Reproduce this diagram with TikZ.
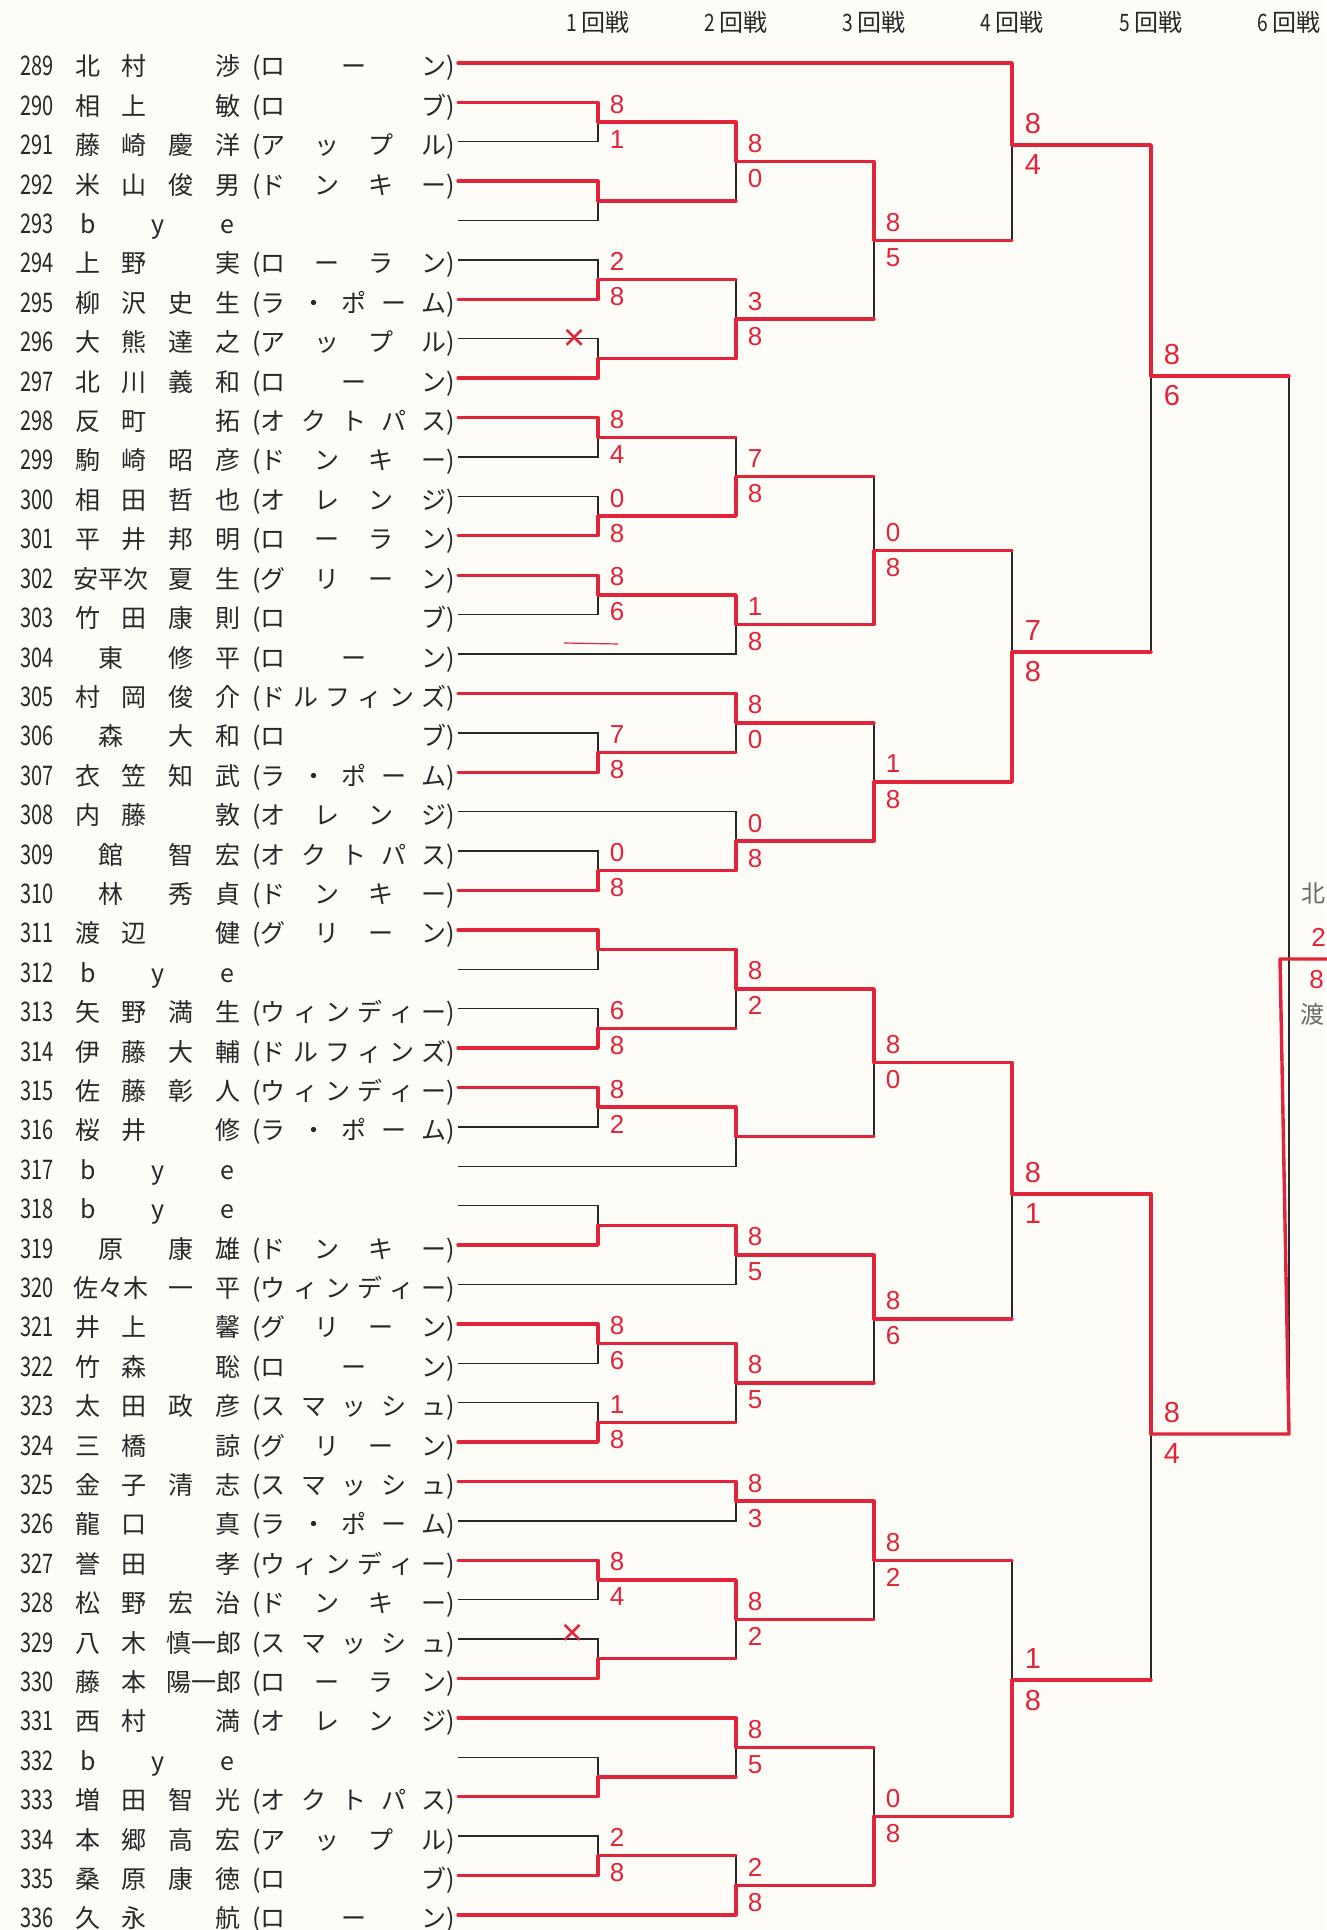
\documentclass[tikz,border=0pt]{standalone}
\usepackage{fontspec}
\usepackage{graphicx}
\setmainfont{Noto Sans CJK JP}
\newfontfamily\scfont{Liberation Sans}
\usetikzlibrary{calc}
\newlength\px \setlength\px{0.5pt}
\definecolor{pen}{RGB}{226,36,58}
\definecolor{ink}{RGB}{40,40,40}
\definecolor{pencil}{RGB}{105,105,105}
\definecolor{paper}{RGB}{253,252,247}
\tikzset{
 txt/.style={inner sep=0pt, font=\fontsize{12.5pt}{12.5pt}\selectfont, text height=10.5pt, text depth=1.5pt, text=ink},
 numtxt/.style={txt, font=\fontsize{13.5pt}{13.5pt}\selectfont},
 hd/.style={txt, font=\fontsize{12pt}{12pt}\selectfont},
 bk/.style={draw=ink, line width=0.7pt},
 rd/.style={draw=pen, line width=1.7pt, line cap=round, line join=round},
 sc/.style={text=pen, inner sep=0pt, font=\scfont\fontsize{13pt}{13pt}\selectfont},
 scl/.style={text=pen, inner sep=0pt, font=\scfont\fontsize{14.5pt}{14.5pt}\selectfont},
 crossmk/.style={text=pen, inner sep=0pt, font=\scfont\fontsize{19pt}{19pt}\selectfont},
 hand/.style={text=pencil, inner sep=0pt, font=\fontsize{12pt}{12pt}\selectfont},
}
\newcommand\SLt[1]{\makebox[46.7\px]{#1}}
\newcommand\DLt[1]{\makebox[93.4\px]{#1}}
\newcommand\NF[4]{\SLt{#1}\SLt{#2}\SLt{#3}\SLt{#4}}
\newcommand\NT[3]{\DLt{#1}\SLt{#2}\SLt{#3}}
\newcommand\NE[3]{\SLt{#1}\SLt{#2}\DLt{#3}}
\newcommand\Row[4]{%
 \coordinate (P#2) at (458,{63+39.4*#1});
 \node[numtxt] (num#2) at (37,{67+39.4*#1}) {\scalebox{0.74}[1]{#2}};
 \node[txt,anchor=west] (nm#2) at (64,{67+39.4*#1}) {#3};
 \node[txt,anchor=west] (tm#2) at (252,{67+39.4*#1}) {(\makebox[186\px][s]{#4})};
}
\newcommand\Bye[2]{%
 \coordinate (P#2) at (458,{63+39.4*#1});
 \node[numtxt] (num#2) at (37,{67+39.4*#1}) {\scalebox{0.74}[1]{#2}};
 \node[txt,anchor=west] (nm#2) at (53,{67+39.4*#1}) {\makebox[69.5\px]{b}\makebox[69.5\px]{y}\makebox[69.5\px]{e}};
}
\newcommand\M[6]{%
 \coordinate (#1) at (#2,{#3});
 \draw[bk] (#4) -| (#1) |- (#5);
 \if#6t\draw[rd] (#4) -| (#1);\else\draw[rd] (#5) -| (#1);\fi
}
\newcommand\Lr[2]{\draw[rd] (#1) -- (#1 -| #2);}
\newcommand\Sc[3]{\node[sc] (#1t) at ($(#1)+(19,-18)$) {#2};\node[sc] (#1b) at ($(#1)+(19,17)$) {#3};}
\newcommand\ScL[3]{\node[scl] (#1t) at ($(#1)+(21,-21)$) {#2};\node[scl] (#1b) at ($(#1)+(21,20)$) {#3};}
\begin{document}
\begin{tikzpicture}[x=0.5pt,y=-0.5pt]
\useasboundingbox (0,0) rectangle (1326,1930);
\fill[paper] (0,0) rectangle (1326,1930);
% headers
\node[hd] (h1) at (598,23) {\scalebox{0.8}[1]{1}\,回戦};
\node[hd] (h2) at (736,23) {\scalebox{0.8}[1]{2}\,回戦};
\node[hd] (h3) at (874,23) {\scalebox{0.8}[1]{3}\,回戦};
\node[hd] (h4) at (1012,23) {\scalebox{0.8}[1]{4}\,回戦};
\node[hd] (h5) at (1151,23) {\scalebox{0.8}[1]{5}\,回戦};
\node[hd] (h6) at (1289,23) {\scalebox{0.8}[1]{6}\,回戦};
% players
\Row{0}{289}{\NF{北}{村}{}{渉}}{ロ\hfill ー\hfill ン}
\Row{1}{290}{\NF{相}{上}{}{敏}}{ロ\hfill ブ}
\Row{2}{291}{\NF{藤}{崎}{慶}{洋}}{ア\hfill ッ\hfill プ\hfill ル}
\Row{3}{292}{\NF{米}{山}{俊}{男}}{ド\hfill ン\hfill キ\hfill ー}
\Bye{4}{293}
\Row{5}{294}{\NF{上}{野}{}{実}}{ロ\hfill ー\hfill ラ\hfill ン}
\Row{6}{295}{\NF{柳}{沢}{史}{生}}{ラ\hfill ・\hfill ポ\hfill ー\hfill ム}
\Row{7}{296}{\NF{大}{熊}{達}{之}}{ア\hfill ッ\hfill プ\hfill ル}
\Row{8}{297}{\NF{北}{川}{義}{和}}{ロ\hfill ー\hfill ン}
\Row{9}{298}{\NF{反}{町}{}{拓}}{オ\hfill ク\hfill ト\hfill パ\hfill ス}
\Row{10}{299}{\NF{駒}{崎}{昭}{彦}}{ド\hfill ン\hfill キ\hfill ー}
\Row{11}{300}{\NF{相}{田}{哲}{也}}{オ\hfill レ\hfill ン\hfill ジ}
\Row{12}{301}{\NF{平}{井}{邦}{明}}{ロ\hfill ー\hfill ラ\hfill ン}
\Row{13}{302}{\NT{安平次}{夏}{生}}{グ\hfill リ\hfill ー\hfill ン}
\Row{14}{303}{\NF{竹}{田}{康}{則}}{ロ\hfill ブ}
\Row{15}{304}{\NT{東}{修}{平}}{ロ\hfill ー\hfill ン}
\Row{16}{305}{\NF{村}{岡}{俊}{介}}{ド\hfill ル\hfill フ\hfill ィ\hfill ン\hfill ズ}
\Row{17}{306}{\NT{森}{大}{和}}{ロ\hfill ブ}
\Row{18}{307}{\NF{衣}{笠}{知}{武}}{ラ\hfill ・\hfill ポ\hfill ー\hfill ム}
\Row{19}{308}{\NF{内}{藤}{}{敦}}{オ\hfill レ\hfill ン\hfill ジ}
\Row{20}{309}{\NT{館}{智}{宏}}{オ\hfill ク\hfill ト\hfill パ\hfill ス}
\Row{21}{310}{\NT{林}{秀}{貞}}{ド\hfill ン\hfill キ\hfill ー}
\Row{22}{311}{\NF{渡}{辺}{}{健}}{グ\hfill リ\hfill ー\hfill ン}
\Bye{23}{312}
\Row{24}{313}{\NF{矢}{野}{満}{生}}{ウ\hfill ィ\hfill ン\hfill デ\hfill ィ\hfill ー}
\Row{25}{314}{\NF{伊}{藤}{大}{輔}}{ド\hfill ル\hfill フ\hfill ィ\hfill ン\hfill ズ}
\Row{26}{315}{\NF{佐}{藤}{彰}{人}}{ウ\hfill ィ\hfill ン\hfill デ\hfill ィ\hfill ー}
\Row{27}{316}{\NF{桜}{井}{}{修}}{ラ\hfill ・\hfill ポ\hfill ー\hfill ム}
\Bye{28}{317}
\Bye{29}{318}
\Row{30}{319}{\NT{原}{康}{雄}}{ド\hfill ン\hfill キ\hfill ー}
\Row{31}{320}{\NT{佐々木}{一}{平}}{ウ\hfill ィ\hfill ン\hfill デ\hfill ィ\hfill ー}
\Row{32}{321}{\NF{井}{上}{}{馨}}{グ\hfill リ\hfill ー\hfill ン}
\Row{33}{322}{\NF{竹}{森}{}{聡}}{ロ\hfill ー\hfill ン}
\Row{34}{323}{\NF{太}{田}{政}{彦}}{ス\hfill マ\hfill ッ\hfill シ\hfill ュ}
\Row{35}{324}{\NF{三}{橋}{}{諒}}{グ\hfill リ\hfill ー\hfill ン}
\Row{36}{325}{\NF{金}{子}{清}{志}}{ス\hfill マ\hfill ッ\hfill シ\hfill ュ}
\Row{37}{326}{\NF{龍}{口}{}{真}}{ラ\hfill ・\hfill ポ\hfill ー\hfill ム}
\Row{38}{327}{\NF{誉}{田}{}{孝}}{ウ\hfill ィ\hfill ン\hfill デ\hfill ィ\hfill ー}
\Row{39}{328}{\NF{松}{野}{宏}{治}}{ド\hfill ン\hfill キ\hfill ー}
\Row{40}{329}{\NE{八}{木}{慎一郎}}{ス\hfill マ\hfill ッ\hfill シ\hfill ュ}
\Row{41}{330}{\NE{藤}{本}{陽一郎}}{ロ\hfill ー\hfill ラ\hfill ン}
\Row{42}{331}{\NF{西}{村}{}{満}}{オ\hfill レ\hfill ン\hfill ジ}
\Bye{43}{332}
\Row{44}{333}{\NF{増}{田}{智}{光}}{オ\hfill ク\hfill ト\hfill パ\hfill ス}
\Row{45}{334}{\NF{本}{郷}{高}{宏}}{ア\hfill ッ\hfill プ\hfill ル}
\Row{46}{335}{\NF{桑}{原}{康}{徳}}{ロ\hfill ブ}
\Row{47}{336}{\NF{久}{永}{}{航}}{ロ\hfill ー\hfill ン}
% round 1
\M{a1}{598}{63+39.4*1.5}{P290}{P291}{t}\Sc{a1}{8}{1}
\M{a2}{598}{63+39.4*3.5}{P292}{P293}{t}
\M{a3}{598}{63+39.4*5.5}{P294}{P295}{b}\Sc{a3}{2}{8}
\M{a4}{598}{63+39.4*7.5}{P296}{P297}{b}
\M{a5}{598}{63+39.4*9.5}{P298}{P299}{t}\Sc{a5}{8}{4}
\M{a6}{598}{63+39.4*11.5}{P300}{P301}{b}\Sc{a6}{0}{8}
\M{a7}{598}{63+39.4*13.5}{P302}{P303}{t}\Sc{a7}{8}{6}
\M{a8}{598}{63+39.4*17.5}{P306}{P307}{b}\Sc{a8}{7}{8}
\M{a9}{598}{63+39.4*20.5}{P309}{P310}{b}\Sc{a9}{0}{8}
\M{a10}{598}{63+39.4*22.5}{P311}{P312}{t}
\M{a11}{598}{63+39.4*24.5}{P313}{P314}{b}\Sc{a11}{6}{8}
\M{a12}{598}{63+39.4*26.5}{P315}{P316}{t}\Sc{a12}{8}{2}
\M{a13}{598}{63+39.4*29.5}{P318}{P319}{b}
\M{a14}{598}{63+39.4*32.5}{P321}{P322}{t}\Sc{a14}{8}{6}
\M{a15}{598}{63+39.4*34.5}{P323}{P324}{b}\Sc{a15}{1}{8}
\M{a16}{598}{63+39.4*38.5}{P327}{P328}{t}\Sc{a16}{8}{4}
\M{a17}{598}{63+39.4*40.5}{P329}{P330}{b}
\M{a18}{598}{63+39.4*43.5}{P332}{P333}{b}
\M{a19}{598}{63+39.4*45.5}{P334}{P335}{b}\Sc{a19}{2}{8}
\node[crossmk] (x296) at (575,340) {×};
\node[crossmk] (x329) at (573,1635) {×};
\draw[pen, line width=0.6pt] (564,643) -- (618,644);
% round 2
\M{b1}{736}{63+39.4*2.5}{a1}{a2}{t}\Sc{b1}{8}{0}\Lr{a2}{b1}
\M{b2}{736}{63+39.4*6.5}{a3}{a4}{b}\Sc{b2}{3}{8}\Lr{a3}{b2}
\M{b3}{736}{63+39.4*10.5}{a5}{a6}{b}\Sc{b3}{7}{8}\Lr{a5}{b3}
\M{b4}{736}{63+39.4*14.25}{a7}{P304}{t}\Sc{b4}{1}{8}
\M{b5}{736}{63+39.4*16.75}{P305}{a8}{t}\Sc{b5}{8}{0}\Lr{a8}{b5}
\M{b6}{736}{63+39.4*19.75}{P308}{a9}{b}\Sc{b6}{0}{8}
\M{b7}{736}{63+39.4*23.5}{a10}{a11}{t}\Sc{b7}{8}{2}\Lr{a11}{b7}
\M{b8}{736}{63+39.4*27.25}{a12}{P317}{t}
\M{b9}{736}{63+39.4*30.25}{a13}{P320}{t}\Sc{b9}{8}{5}
\M{b10}{736}{63+39.4*33.5}{a14}{a15}{t}\Sc{b10}{8}{5}\Lr{a15}{b10}
\M{b11}{736}{63+39.4*36.5}{P325}{P326}{t}\Sc{b11}{8}{3}
\M{b12}{736}{63+39.4*39.5}{a16}{a17}{t}\Sc{b12}{8}{2}\Lr{a17}{b12}
\M{b13}{736}{63+39.4*42.75}{P331}{a18}{t}\Sc{b13}{8}{5}\Lr{a18}{b13}
\M{b14}{736}{63+39.4*46.25}{a19}{P336}{b}\Sc{b14}{2}{8}\Lr{a19}{b14}
% round 3
\M{c1}{874}{63+39.4*4.5}{b1}{b2}{t}\Sc{c1}{8}{5}\Lr{b2}{c1}
\M{c2}{874}{63+39.4*12.375}{b3}{b4}{b}\Sc{c2}{0}{8}\Lr{b3}{c2}
\M{c3}{874}{63+39.4*18.25}{b5}{b6}{b}\Sc{c3}{1}{8}\Lr{b5}{c3}
\M{c4}{874}{63+39.4*25.375}{b7}{b8}{t}\Sc{c4}{8}{0}\Lr{b8}{c4}
\M{c5}{874}{63+39.4*31.875}{b9}{b10}{t}\Sc{c5}{8}{6}\Lr{b10}{c5}
\M{c6}{874}{63+39.4*38}{b11}{b12}{t}\Sc{c6}{8}{2}\Lr{b12}{c6}
\M{c7}{874}{63+39.4*44.5}{b13}{b14}{b}\Sc{c7}{0}{8}\Lr{b13}{c7}
% round 4
\M{d1}{1012}{145}{P289}{c1}{t}\ScL{d1}{8}{4}\Lr{c1}{d1}
\M{d2}{1012}{652}{c2}{c3}{b}\ScL{d2}{7}{8}\Lr{c2}{d2}
\M{d3}{1012}{1194}{c4}{c5}{t}\ScL{d3}{8}{1}\Lr{c5}{d3}
\M{d4}{1012}{1680}{c6}{c7}{b}\ScL{d4}{1}{8}\Lr{c6}{d4}
% round 5
\M{e1}{1151}{376}{d1}{d2}{t}\ScL{e1}{8}{6}\Lr{d2}{e1}
\M{e2}{1151}{1434}{d3}{d4}{t}\ScL{e2}{8}{4}\Lr{d4}{e2}
% final
\coordinate (f) at (1289,959);
\coordinate (fend) at (1340,959);
\draw[bk] (e1) -| (f) |- (e2);
\draw[bk] (f) -- (fend);
\draw[rd] (e1) -- (e1 -| f);
\draw[rd] (e2) -- (e2 -| f) -- ($(f)+(-9,0)$) -- (fend);
\node[hand, anchor=west] (fn1) at (1301,893) {北};
\node[sc, anchor=west] (fs1) at (1311,937) {2};
\node[sc, anchor=west] (fs2) at (1309,980) {8};
\node[hand, anchor=west] (fn2) at (1300,1014) {渡};
\end{tikzpicture}
\end{document}
